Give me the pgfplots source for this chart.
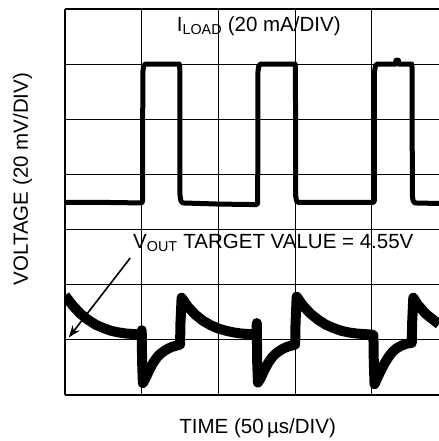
\documentclass[border=0pt]{standalone}
\usepackage{pgfplots}
\pgfplotsset{compat=1.18}
\usepackage{fontspec}
\setmainfont{Liberation Sans}
\usetikzlibrary{arrows.meta}
\begin{document}
\fontsize{20.5bp}{24bp}\selectfont
\begin{tikzpicture}
\begin{axis}[
  scale only axis,
  width=374bp, height=385.7bp,
  xmin=0, xmax=4.875, ymin=0, ymax=7,
  axis x line*=box, axis y line*=left,
  axis line style={line width=1.6bp, black},
  xtick={0,1,2,3,4}, ytick={0,1,2,3,4,5,6,7},
  xticklabels={}, yticklabels={},
  major tick length=0pt,
  grid=major,
  major grid style={line width=1.2bp, black},
  clip=true,
  xlabel={TIME (50\,µs/DIV)},
  ylabel={VOLTAGE (20 mV/DIV)},
  xlabel style={at={(axis description cs:0.515,-0.0993)}, anchor=base, font=\fontsize{20.5bp}{24bp}\selectfont},
  ylabel style={at={(axis description cs:-0.1136,0.559)}, anchor=center, rotate=0, font=\fontsize{20.5bp}{24bp}\selectfont},
]
% load current trace
\addplot[draw=black, line width=5bp, line join=round] coordinates {
(0,3.49) (0.5,3.49) (1.0,3.48) (1.012,3.52) (1.014,5.85) (1.025,5.96) (1.045,6.0)
(1.49,6.0) (1.497,5.9) (1.499,3.62) (1.51,3.52) (1.535,3.48) (2.0,3.46) (2.5,3.45)
(2.512,3.48) (2.514,5.85) (2.525,5.96) (2.545,6.0) (3.0,6.0) (3.004,5.9) (3.006,3.62)
(3.017,3.52) (3.04,3.49) (3.5,3.49) (4.02,3.49) (4.032,3.52) (4.034,5.85) (4.045,5.96)
(4.065,6.0) (4.31,6.0) (4.315,6.07) (4.345,6.07) (4.35,6.0) (4.52,6.0) (4.525,5.9)
(4.527,3.62) (4.538,3.52) (4.56,3.48) (4.875,3.47)
};
% output voltage trace
\addplot[draw=black, line width=10bp, line join=round] coordinates {
(0,1.80) (0.1,1.62) (0.2,1.47) (0.3,1.36) (0.4,1.27) (0.5,1.21) (0.6,1.16)
(0.7,1.13) (0.8,1.11) (0.9,1.10) (0.995,1.09) (1.0,1.17) (1.005,0.6) (1.015,0.21)
(1.05,0.30) (1.1,0.45) (1.15,0.58) (1.2,0.68) (1.25,0.75) (1.3,0.80) (1.35,0.84)
(1.4,0.87) (1.45,0.89) (1.5,0.91) (1.505,1.3) (1.52,1.76) (1.6,1.6) (1.7,1.45)
(1.8,1.34) (1.9,1.26) (2.0,1.20) (2.1,1.16) (2.2,1.13) (2.3,1.11) (2.4,1.10)
(2.495,1.09) (2.50,1.30) (2.505,0.6) (2.515,0.22)
(2.55,0.30) (2.6,0.45) (2.65,0.58) (2.7,0.68) (2.75,0.75) (2.8,0.80) (2.85,0.84)
(2.9,0.87) (2.95,0.89) (3.0,0.91) (3.005,1.3) (3.02,1.78) (3.1,1.62) (3.2,1.47)
(3.3,1.36) (3.4,1.27) (3.5,1.21) (3.6,1.16) (3.7,1.13) (3.8,1.11) (3.9,1.10)
(4.0,1.09) (4.02,1.08) (4.025,0.6) (4.035,0.19)
(4.07,0.30) (4.12,0.45) (4.17,0.58) (4.22,0.69) (4.27,0.78) (4.32,0.84) (4.37,0.88)
(4.42,0.91) (4.47,0.93) (4.52,0.94) (4.525,1.3) (4.54,1.76) (4.6,1.63) (4.7,1.47)
(4.8,1.36) (4.875,1.28)
};
\node[anchor=base west, inner sep=0pt] at (axis cs:1.456,6.59) {I\textsubscript{LOAD} (20 mA/DIV)};
\node[anchor=base west, inner sep=0pt] at (axis cs:0.887,2.66) {V\textsubscript{OUT} TARGET VALUE = 4.55V};
\draw[line width=1.6bp, -{Stealth[length=12bp,width=9bp]}] (axis cs:0.85,2.48) -- (axis cs:0.05,1.04);
\end{axis}
\pgfresetboundingbox
\path[use as bounding box] (-65bp,-46.3bp) rectangle (374bp,394.7bp);
\end{tikzpicture}
\end{document}
